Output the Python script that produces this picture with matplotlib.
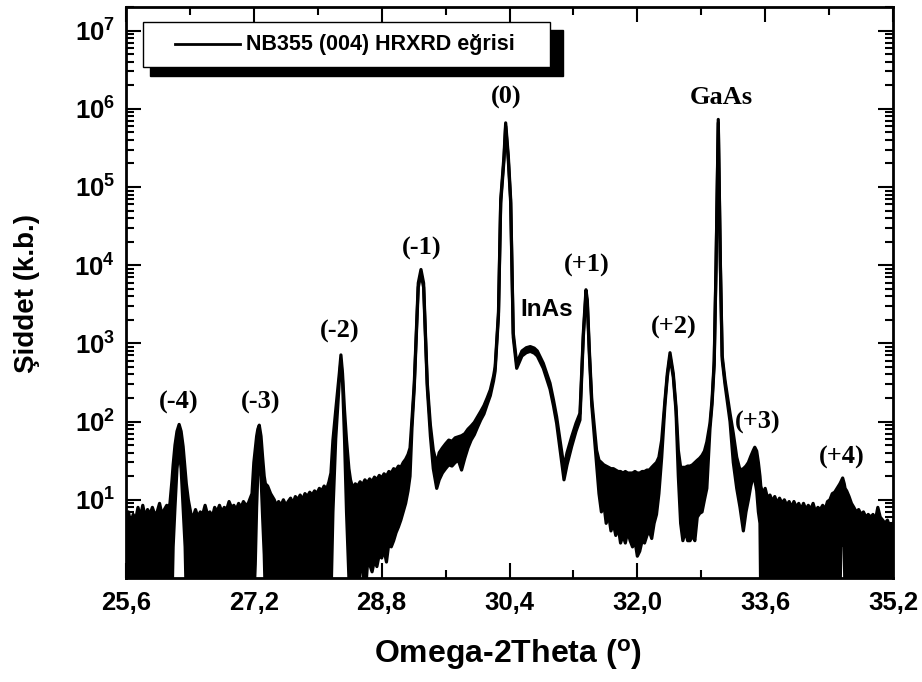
import numpy as np
import matplotlib
matplotlib.use("Agg")
import matplotlib.pyplot as plt
from matplotlib.ticker import LogLocator, NullFormatter, FuncFormatter, AutoMinorLocator
from matplotlib.patches import Rectangle
from matplotlib.lines import Line2D

# NB355 (004) HRXRD egrisi, okunan degerler
# omega-2theta (derece), izin ust ve alt kenari (sayim)
two_theta = [
    # zemin
    25.60, 25.63, 25.66, 25.69, 25.72, 25.75, 25.78, 25.81, 25.84, 25.87,
    25.90, 25.93, 25.96, 25.99, 26.02, 26.05, 26.08, 26.11, 26.13,
    # (-4)
    26.150, 26.176, 26.190, 26.213, 26.238, 26.265, 26.290, 26.315, 26.340, 26.355, 26.380, 26.414,
    # zemin
    26.44, 26.47, 26.50, 26.53, 26.56, 26.59, 26.62, 26.65, 26.68, 26.71, 26.74, 26.77, 26.80,
    26.83, 26.86, 26.89, 26.92, 26.95, 26.98, 27.01, 27.04, 27.07, 27.10, 27.13, 27.155,
    # (-3)
    27.177, 27.200, 27.218, 27.235, 27.250, 27.268, 27.290, 27.310, 27.330, 27.345, 27.373, 27.41, 27.456,
    # zemin
    27.48, 27.51, 27.54, 27.57, 27.60, 27.63, 27.66, 27.69, 27.72, 27.75, 27.78, 27.81,
    27.84, 27.87, 27.90, 27.93, 27.96, 27.99, 28.02, 28.05, 28.08, 28.11, 28.14,
    # (-2)
    28.165, 28.190, 28.225, 28.270, 28.290, 28.310, 28.335, 28.360, 28.390, 28.410,
    # zemin
    28.44, 28.47, 28.50, 28.53, 28.56, 28.59, 28.62, 28.65, 28.68, 28.71, 28.74, 28.77, 28.80,
    28.83, 28.86, 28.89, 28.92, 28.95, 28.98, 29.01, 29.04, 29.07, 29.10, 29.13, 29.155,
    # (-1)
    29.18, 29.208, 29.258, 29.292, 29.325, 29.371, 29.41, 29.446, 29.489,
    # zemin
    29.52, 29.56, 29.60, 29.64, 29.68, 29.72, 29.76, 29.80, 29.84, 29.88, 29.92, 29.96,
    30.00, 30.04, 30.08, 30.12, 30.16,
    # (0)
    30.20, 30.22, 30.243, 30.262, 30.290, 30.331, 30.352, 30.385, 30.415, 30.447, 30.490,
    # InAs
    30.556, 30.610, 30.660, 30.710, 30.748, 30.823, 30.907, 30.950, 30.990, 31.035, 31.082,
    31.12, 31.178, 31.232, 31.282,
    # (+1)
    31.324, 31.357, 31.374, 31.400, 31.430, 31.490,
    # zemin
    31.52, 31.55, 31.58, 31.61, 31.64, 31.67, 31.70, 31.73, 31.76, 31.79, 31.82, 31.85, 31.88,
    31.91, 31.94, 31.97, 32.00, 32.03, 32.06, 32.09, 32.12, 32.15, 32.18, 32.21, 32.24, 32.27,
    # (+2)
    32.305, 32.346, 32.375, 32.409, 32.450, 32.484, 32.513, 32.542,
    # zemin
    32.57, 32.60, 32.63, 32.66, 32.69, 32.72, 32.75, 32.78, 32.81, 32.84, 32.87,
    # GaAs ve (+3)
    32.909, 32.935, 32.962, 32.985, 33.013, 33.040, 33.062, 33.097, 33.160, 33.201, 33.244,
    33.285, 33.327, 33.36, 33.390, 33.42, 33.452, 33.470, 33.494, 33.515, 33.535, 33.545,
    # zemin ve (+4)
    33.57, 33.60, 33.63, 33.66, 33.69, 33.72, 33.75, 33.78, 33.81, 33.84, 33.87, 33.90, 33.93,
    33.96, 33.99, 34.02, 34.05, 34.08, 34.11, 34.14, 34.17, 34.20, 34.23, 34.26, 34.29, 34.32,
    34.35, 34.38, 34.41, 34.44, 34.47, 34.50,
    34.535, 34.548, 34.57, 34.59, 34.60,
    34.62, 34.65, 34.68, 34.71, 34.74, 34.77, 34.80, 34.83, 34.86, 34.89, 34.92, 34.95, 34.98,
    35.01, 35.04, 35.07, 35.10, 35.13, 35.16, 35.20,
]

i_top = [
    4.5, 7.0, 5.0, 6.5, 5.5, 8.0, 6.0, 8.5, 6.0, 7.5,
    6.5, 8.0, 6.5, 7.0, 9.0, 6.5, 7.5, 8.5, 7.5,
    9, 18, 28, 50, 75, 92, 75, 48, 24, 16, 10, 6.5,
    6.0, 7.5, 6.0, 7.0, 6.5, 8.5, 6.5, 7.0, 6.0, 8.0, 7.0, 8.5, 7.0,
    8.0, 7.5, 9.5, 8.0, 8.5, 7.5, 9.0, 8.0, 9.5, 8.5, 9.0, 10.5,
    12, 30, 45, 65, 80, 90, 65, 35, 20, 16, 15, 12, 10,
    8.5, 9.5, 8.5, 10, 8.5, 9.5, 10.5, 9.0, 11, 10, 11.5, 10,
    12, 11, 12.5, 11.5, 13, 12, 14, 13, 15, 13.5, 17,
    22, 58, 140, 415, 712, 415, 140, 58, 25, 18,
    14, 16, 15, 17, 15.5, 18, 16.5, 18.5, 17, 19.5, 18, 20.5, 19,
    21.5, 20, 23, 22, 25, 24, 27, 26, 30, 33, 38, 46,
    110, 310, 5900, 8800, 5900, 310, 90, 43, 29,
    40, 46, 52, 58, 56, 62, 64, 66, 70, 80, 88, 98,
    115, 135, 160, 200, 255,
    380, 500, 1200, 2500, 6.9e4, 2.5e5, 6.6e5, 2.5e5, 6.9e4, 1360, 557,
    800, 880, 910, 870, 800, 557, 310, 190, 115, 55, 26,
    40, 64, 95, 128,
    1360, 4850, 3600, 800, 189, 43,
    32, 30, 28, 27, 26, 25, 25, 24, 23, 23, 22, 23, 22,
    22, 22, 23, 22, 22, 23, 23, 24, 24, 26, 28, 30, 35,
    58, 189, 412, 760, 412, 155, 43, 26,
    26, 26, 27, 27, 28, 30, 32, 34, 37, 42, 55,
    95, 189, 600, 1e4, 7.3e5, 1e4, 700, 340, 128, 71, 35,
    24, 25, 27, 30, 36, 43, 47, 42, 30, 20, 15,
    12, 14, 10.5, 11.5, 9.5, 11, 9, 10.5, 9, 10, 8.5, 9.5, 8,
    9.5, 8, 9, 7.5, 9, 7.5, 8.5, 7.5, 9, 7, 8, 7.5, 8.5,
    7.5, 9.5, 10, 12, 12.5, 14,
    16, 17, 19, 16, 14,
    13, 11, 9, 8, 7, 7.5, 6.5, 7, 6, 6.5, 6, 6.5, 5.5,
    8, 6, 5.5, 5, 5.5, 4.5, 5,
]

i_bot = (
    [0.5] * 19
    + [0.5, 0.5, 2.5, 8, 25, 45, 25, 8, 2.5, 0.5, 0.5, 0.5]
    + [0.5] * 25
    + [0.5, 0.5, 1.5, 8, 22, 42, 20, 6, 2, 0.5, 0.5, 0.5, 0.5]
    + [0.5] * 23
    + [0.5, 7, 60, 330, 600, 330, 60, 7, 1.0, 0.5]
    + [0.5, 0.5, 0.5, 1.3, 1.5, 0.5, 1.4, 1.5, 1.2, 1.7, 1.4, 2.0, 1.8,
       2.3, 1.6, 2.8, 2.5, 3.0, 3.8, 4.5, 5.5, 7, 9, 13, 20]
    + [85, 270, 5200, 7800, 5200, 270, 65, 25, 14]
    + [18, 22, 25, 28, 27, 30, 32, 24, 34, 46, 58, 68, 85, 105, 125, 165, 215]
    + [330, 440, 1080, 2250, 6.2e4, 2.2e5, 6.0e5, 2.2e5, 6.2e4, 1200, 480]
    + [690, 760, 790, 750, 690, 480, 260, 160, 95, 42, 18, 28, 48, 75, 105]
    + [1200, 4300, 3200, 700, 160, 28]
    + [12, 7, 9, 5, 6.5, 4, 5, 3.5, 4.5, 2.8, 3.5, 2.8, 4,
       3, 2.5, 3, 1.9, 2.2, 3, 2.8, 3.5, 4, 3.2, 5, 6.5, 12]
    + [35, 165, 370, 680, 370, 135, 20, 5]
    + [3, 4, 3, 3, 3.5, 3, 6, 6.7, 7, 10, 14]
    + [80, 165, 530, 9000, 6.6e5, 9000, 620, 300, 100, 30, 14,
       8, 4, 7, 10, 15, 20, 18, 13, 7, 5, 0.5]
    + [0.5] * 32
    + [0.5, 2.5, 2.9, 2.5, 0.5]
    + [0.5] * 20
)

x_ticks = [25.6, 27.2, 28.8, 30.4, 32.0, 33.6, 35.2]
y_ticks = [1e1, 1e2, 1e3, 1e4, 1e5, 1e6, 1e7]

peak_names = ["(-4)", "(-3)", "(-2)", "(-1)", "(0)", "(+1)", "(+2)", "GaAs", "(+3)", "(+4)"]
peak_lx = [26.26, 27.28, 28.28, 29.30, 30.36, 31.37, 32.45, 33.05, 33.51, 34.56]
peak_ly = [178, 178, 1400, 1.63e4, 1.4e6, 1.0e4, 1580, 1.4e6, 98, 35]


def main():
    plt.rcParams['font.family'] = ['Liberation Sans', 'DejaVu Sans']
    plt.rcParams['font.weight'] = 'bold'
    plt.rcParams['mathtext.fontset'] = 'custom'
    plt.rcParams['mathtext.rm'] = 'Liberation Sans'
    plt.rcParams['mathtext.bf'] = 'Liberation Sans:bold'

    x = np.array(two_theta)
    top = np.array(i_top, dtype=float)
    bot = np.array(i_bot, dtype=float)
    assert len(x) == len(top) == len(bot), (len(x), len(top), len(bot))

    fig = plt.figure(figsize=(9.22, 6.82), dpi=100)
    ax = fig.add_axes([126 / 922, 104 / 682, 767 / 922, 571 / 682])

    ax.fill_between(x, bot, top, color='black', lw=0)
    ax.plot(x, top, color='black', lw=2.3)
    ax.plot(x, bot, color='black', lw=2.3)

    ax.set_yscale('log')
    ax.set_xlim(25.6, 35.2)
    ax.set_ylim(1, 2e7)

    ax.set_xticks(x_ticks)
    ax.set_xticklabels([("%.1f" % t).replace('.', ',') for t in x_ticks])
    ax.xaxis.set_minor_locator(AutoMinorLocator(2))
    ax.set_yticks(y_ticks)
    ax.yaxis.set_major_formatter(FuncFormatter(lambda v, p: r'$\mathbf{10^{%d}}$' % round(np.log10(v))))
    ax.yaxis.set_minor_locator(LogLocator(base=10, subs=np.arange(2, 10), numticks=30))
    ax.yaxis.set_minor_formatter(NullFormatter())

    ax.tick_params(which='both', direction='in', top=True, right=True, width=1.5)
    ax.tick_params(which='major', length=11, labelsize=18.5)
    ax.tick_params(axis='x', which='major', pad=9)
    ax.tick_params(axis='y', which='major', pad=8)
    ax.tick_params(which='minor', length=6)
    for lbl in ax.get_xticklabels() + ax.get_yticklabels():
        lbl.set_fontweight('bold')
    for s in ax.spines.values():
        s.set_linewidth(2.0)

    fig.text(508 / 922, 1 - 655 / 682, r'Omega-2Theta ($\mathrm{^{o}}$)', ha='center', va='center',
             fontsize=23, fontweight='bold')
    fig.text(27 / 922, 1 - 293 / 682, 'Şiddet (k.b.)', rotation=90, ha='center', va='center',
             fontsize=20, fontweight='bold')

    for name, px, py in zip(peak_names, peak_lx, peak_ly):
        ax.text(px, py, name, ha='center', va='center', fontsize=19, fontweight='bold',
                family=['Liberation Serif', 'DejaVu Serif'])
    ax.text(30.87, 2700, 'InAs', ha='center', va='center', fontsize=17.5, fontweight='bold')

    # lejant (golgeli kutu)
    ax.add_patch(Rectangle((0.0313, 0.879), 0.538, 0.081, transform=ax.transAxes,
                           facecolor='black', edgecolor='black', zorder=5))
    ax.add_patch(Rectangle((0.022, 0.8955), 0.531, 0.0787, transform=ax.transAxes,
                           facecolor='white', edgecolor='black', lw=1.0, zorder=6))
    ax.add_line(Line2D([0.064, 0.149], [0.935, 0.935], transform=ax.transAxes,
                       color='black', lw=2.0, zorder=7))
    ax.text(0.156, 0.935, 'NB355 (004) HRXRD eğrisi', transform=ax.transAxes,
            ha='left', va='center', fontsize=15.5, fontweight='bold', zorder=7)

    fig.savefig('out.png', dpi=100)


if __name__ == '__main__':
    main()
